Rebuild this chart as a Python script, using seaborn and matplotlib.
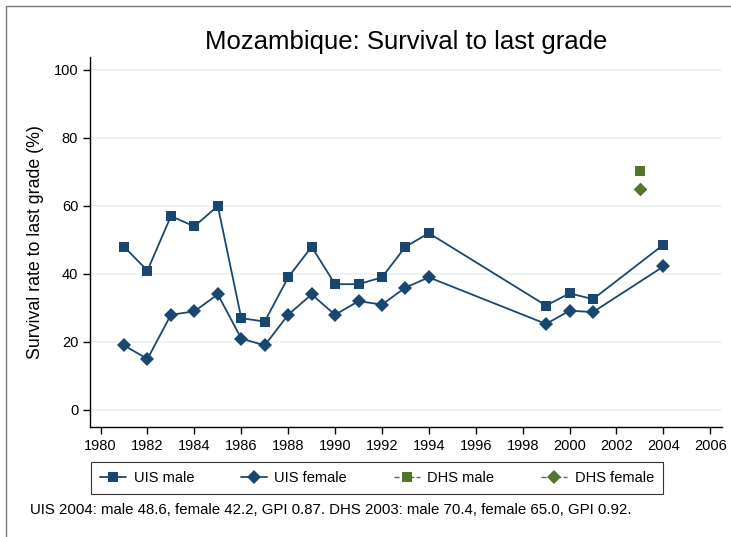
import numpy as np
import pandas as pd
import seaborn as sns
import matplotlib.pyplot as plt
from matplotlib.lines import Line2D
from matplotlib.patches import Rectangle

uis_years = [1981, 1982, 1983, 1984, 1985, 1986, 1987, 1988, 1989, 1990,
             1991, 1992, 1993, 1994, 1999, 2000, 2001, 2004]
uis_male = [48, 41, 57, 54, 60, 27, 26, 39, 48, 37,
            37, 39, 48, 52, 30.7, 34.3, 32.6, 48.6]
uis_female = [19, 15, 28, 29, 34, 21, 19, 28, 34, 28,
              32, 31, 36, 39, 25.3, 29.2, 28.8, 42.2]
dhs_years = [2003]
dhs_male = [70.4]
dhs_female = [65.0]

navy = "#1a476f"
green = "#55752f"

sns.set_style("white")
plt.rcParams['font.family'] = ['Liberation Sans', 'DejaVu Sans']
plt.rcParams['text.color'] = 'black'
plt.rcParams['axes.labelcolor'] = 'black'
plt.rcParams['xtick.color'] = 'black'
plt.rcParams['ytick.color'] = 'black'

fig = plt.figure(figsize=(7.31, 5.37), dpi=100)
ax = fig.add_axes([90 / 731, 110 / 537, 632 / 731, 370 / 537])

uis = pd.DataFrame({"year": uis_years, "male": uis_male, "female": uis_female})
dhs = pd.DataFrame({"year": dhs_years, "male": dhs_male, "female": dhs_female})

sns.lineplot(data=uis, x="year", y="male", ax=ax, color=navy, marker="s",
             markersize=6.8, markeredgewidth=0, linewidth=1.3)
sns.lineplot(data=uis, x="year", y="female", ax=ax, color=navy, marker="D",
             markersize=7, markeredgewidth=0, linewidth=1.3)
sns.scatterplot(data=dhs, x="year", y="male", ax=ax, color=green, marker="s",
                s=46, linewidth=0)
sns.scatterplot(data=dhs, x="year", y="female", ax=ax, color=green, marker="D",
                s=49, linewidth=0)

ax.set_xlim(1979.55, 2006.5)
ax.set_ylim(-5, 103.8)
ax.set_xticks(np.arange(1980, 2007, 2))
ax.set_yticks(np.arange(0, 101, 20))
ax.yaxis.grid(True, color="#eaf2f3", linewidth=1.2)
ax.set_axisbelow(True)
for side in ["top", "right"]:
    ax.spines[side].set_visible(False)
for side in ["left", "bottom"]:
    ax.spines[side].set_color("black")
    ax.spines[side].set_linewidth(1)
ax.tick_params(axis="both", direction="out", length=5, width=1, labelsize=10.5,
               color="black", bottom=True, left=True)
ax.set_xlabel("")
ax.set_ylabel("Survival rate to last grade (%)", fontsize=12.8, labelpad=7)
ax.set_title("Mozambique: Survival to last grade", fontsize=18.5, pad=6)

handles = [
    Line2D([], [], color=navy, marker="s", markersize=6.5, lw=1.3, markeredgewidth=0),
    Line2D([], [], color=navy, marker="D", markersize=7, lw=1.3, markeredgewidth=0),
    Line2D([], [], color=green, marker="s", markersize=6.5, lw=1, ls="--", markeredgewidth=0),
    Line2D([], [], color=green, marker="D", markersize=7, lw=1, ls="--", markeredgewidth=0),
]
labels = ["UIS male", "UIS female", "DHS male", "DHS female"]
leg = fig.legend(handles, labels, loc="center", bbox_to_anchor=(377 / 731, 1 - 478 / 537),
                 ncol=4, fontsize=10.5, frameon=True, fancybox=False,
                 columnspacing=3.2, handlelength=1.8, handletextpad=0.5,
                 borderpad=0.6)
leg.get_frame().set_edgecolor("black")
leg.get_frame().set_linewidth(0.8)

fig.text(30 / 731, 1 - 510 / 537,
         "UIS 2004: male 48.6, female 42.2, GPI 0.87. DHS 2003: male 70.4, female 65.0, GPI 0.92.",
         fontsize=10.8, va="center", ha="left")

fig.patches.append(Rectangle((6 / 731, -0.1), 1.2, 1 - 6 / 537 + 0.1,
                             transform=fig.transFigure, fill=False,
                             edgecolor="#777777", linewidth=1))

fig.savefig("out.png", dpi=100)
